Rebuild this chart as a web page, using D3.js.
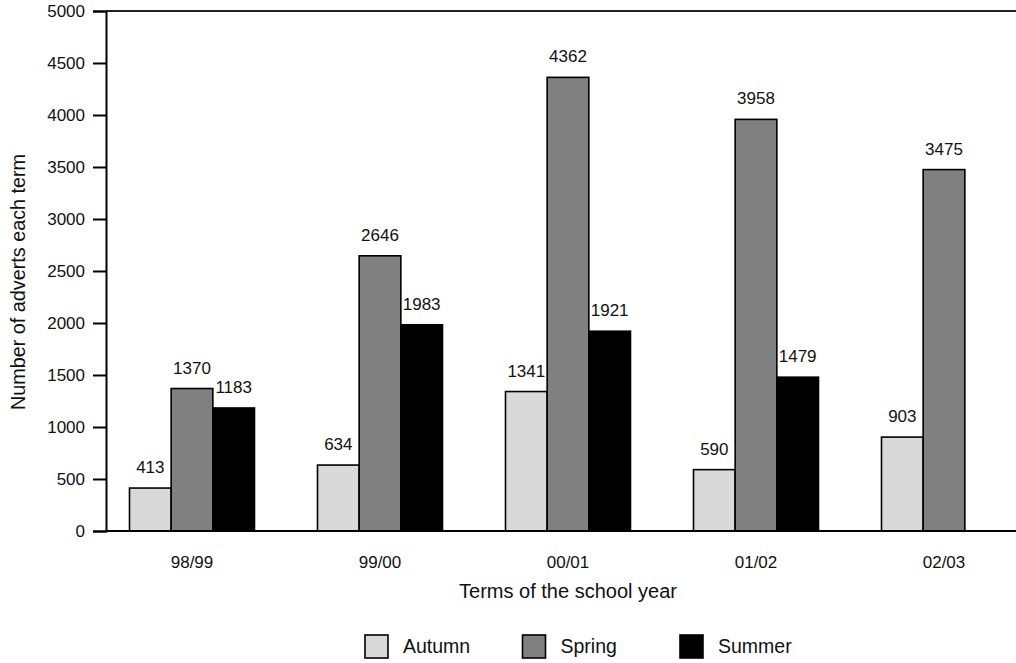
<!DOCTYPE html>
<html>
<head>
<meta charset="utf-8">
<script src="https://cdn.jsdelivr.net/npm/d3@7"></script>
<style>
  html, body { margin: 0; padding: 0; background: #fff; }
  svg { display: block; font-family: "Liberation Sans", Arial, Helvetica, sans-serif; }
</style>
</head>
<body>
<svg id="chart" width="1016" height="663"></svg>
<script>
// School years on the x axis
const years = ["98/99", "99/00", "00/01", "01/02", "02/03"];
// Terms in each year (one bar per term)
const terms = ["Autumn", "Spring", "Summer"];
// Number of adverts per term
const autumn = [413, 634, 1341, 590, 903];
const spring = [1370, 2646, 4362, 3958, 3475];
const summer = [1183, 1983, 1921, 1479, null];
const yTicks = [0, 500, 1000, 1500, 2000, 2500, 3000, 3500, 4000, 4500, 5000];

const seriesValues = { Autumn: autumn, Spring: spring, Summer: summer };
const fills = { Autumn: "#d9d9d9", Spring: "#808080", Summer: "#000000" };

const svg = d3.select("#chart");
const W = 1016;
const plotLeft = 106, plotTop = 11, plotBottom = 531;

const y = d3.scaleLinear().domain([0, 5000]).range([plotBottom, plotTop]);
const x0 = d3.scaleBand().domain(years).range([98, 1038]).padding(0);
const groupW = 125;
const x1 = d3.scaleBand().domain(terms)
  .range([(x0.bandwidth() - groupW) / 2, (x0.bandwidth() + groupW) / 2]).padding(0);

// Flatten into bar records
const bars = [];
years.forEach((yr, i) => {
  terms.forEach(t => {
    const v = seriesValues[t][i];
    if (v != null) bars.push({ year: yr, term: t, value: v });
  });
});

// Bars
const g = svg.append("g");
g.selectAll("rect.bar").data(bars).join("rect")
  .attr("class", "bar")
  .attr("x", d => x0(d.year) + x1(d.term))
  .attr("y", d => y(d.value))
  .attr("width", x1.bandwidth())
  .attr("height", d => y(0) - y(d.value))
  .attr("fill", d => fills[d.term])
  .attr("stroke", "#000")
  .attr("stroke-width", 1.6);

// Value labels above bars
g.selectAll("text.val").data(bars).join("text")
  .attr("class", "val")
  .attr("x", d => x0(d.year) + x1(d.term) + x1.bandwidth() / 2)
  .attr("y", d => y(d.value) - 15)
  .attr("text-anchor", "middle")
  .attr("font-size", 17)
  .attr("fill", "#111")
  .text(d => d.value);

// Y axis
const yAxis = svg.append("g")
  .attr("transform", `translate(${plotLeft},0)`)
  .call(d3.axisLeft(y).tickValues(yTicks).tickSize(13).tickPadding(8).tickFormat(d3.format("d")));
yAxis.select(".domain").attr("stroke", "#000").attr("stroke-width", 2);
yAxis.selectAll(".tick line").attr("stroke", "#000").attr("stroke-width", 2);
yAxis.selectAll(".tick text").attr("font-size", 17).attr("fill", "#111")
  .attr("font-family", "Liberation Sans, Arial, sans-serif");

// Baseline and top rule across the plot
svg.append("line").attr("x1", plotLeft).attr("x2", W)
  .attr("y1", y(0)).attr("y2", y(0)).attr("stroke", "#000").attr("stroke-width", 2);
svg.append("line").attr("x1", plotLeft).attr("x2", W)
  .attr("y1", y(5000)).attr("y2", y(5000)).attr("stroke", "#222").attr("stroke-width", 2);

// X axis labels
const xAxis = svg.append("g")
  .attr("transform", `translate(0,${plotBottom})`)
  .call(d3.axisBottom(x0).tickSize(0).tickPadding(25));
xAxis.select(".domain").remove();
xAxis.selectAll(".tick text").attr("font-size", 17).attr("fill", "#111")
  .attr("font-family", "Liberation Sans, Arial, sans-serif");

// Axis titles
svg.append("text")
  .attr("x", (x0.range()[0] + x0.range()[1]) / 2)
  .attr("y", 598)
  .attr("text-anchor", "middle")
  .attr("font-size", 20)
  .attr("fill", "#111")
  .text("Terms of the school year");

svg.append("text")
  .attr("transform", "translate(25,282) rotate(-90)")
  .attr("text-anchor", "middle")
  .attr("font-size", 19.8)
  .attr("fill", "#111")
  .text("Number of adverts each term");

// Legend
const legend = svg.append("g").attr("transform", "translate(365,635)");
const li = legend.selectAll("g").data(terms).join("g")
  .attr("transform", (d, i) => `translate(${i * 157.5},0)`);
li.append("rect")
  .attr("width", 23).attr("height", 23)
  .attr("fill", d => fills[d])
  .attr("stroke", "#000").attr("stroke-width", 1.6);
li.append("text")
  .attr("x", 38).attr("y", 18)
  .attr("font-size", 19.5)
  .attr("fill", "#111")
  .text(d => d);
</script>
</body>
</html>
